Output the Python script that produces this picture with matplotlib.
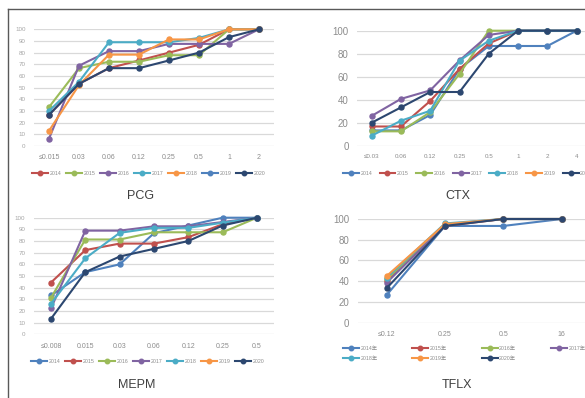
import matplotlib.pyplot as plt
import numpy as np

nan = np.nan

# renkler (Excel paleti)
mavi = "#4F81BD"
kirmizi = "#C0504D"
yesil = "#9BBB59"
mor = "#8064A2"
camgobegi = "#4BACC6"
turuncu = "#F79646"
lacivert = "#2C4770"

yillar = ["2014", "2015", "2016", "2017", "2018", "2019", "2020"]

# PCG
pcg_x = ["≤0.015", "0.03", "0.06", "0.12", "0.25", "0.5", "1", "2"]
pcg_2014 = [26.7, 53.3, 66.7, 73.3, 80.0, 86.7, 100, 100]
pcg_2015 = [33.3, 66.7, 72.2, 72.2, 77.8, 77.8, 100, 100]
pcg_2016 = [6.3, 68.8, 81.3, 81.3, 87.5, 87.5, 87.5, 100]
pcg_2017 = [30.0, 55.0, 88.9, 88.9, 88.9, 92.6, 100, 100]
pcg_2018 = [13.0, 52.2, 78.3, 78.3, 91.3, 91.3, 100, 100]
pcg_2019 = [nan] * 8
pcg_2020 = [26.7, 53.3, 66.7, 66.7, 73.3, 80.0, 93.3, 100]

# CTX
ctx_x = ["≤0.03", "0.06", "0.12", "0.25", "0.5", "1", "2", "4"]
ctx_2014 = [13.3, 13.3, 26.7, 66.7, 86.7, 86.7, 86.7, 100]
ctx_2015 = [16.7, 16.7, 38.9, 66.7, 88.9, 100, 100, 100]
ctx_2016 = [12.5, 12.5, 29.2, 62.5, 100, 100, 100, 100]
ctx_2017 = [25.9, 40.7, 48.1, 74.1, 96.3, 100, 100, 100]
ctx_2018 = [8.7, 21.7, 30.4, 73.9, 91.3, 100, 100, 100]
ctx_2019 = [nan] * 8
ctx_2020 = [20.0, 33.3, 46.7, 46.7, 80.0, 100, 100, 100]

# MEPM
mepm_x = ["≤0.008", "0.015", "0.03", "0.06", "0.12", "0.25", "0.5"]
mepm_2014 = [33.3, 53.3, 60.0, 86.7, 93.3, 100, 100]
mepm_2015 = [44.4, 72.2, 77.8, 77.8, 83.3, 94.4, 100]
mepm_2016 = [31.3, 81.3, 81.3, 87.5, 87.5, 87.5, 100]
mepm_2017 = [22.2, 88.9, 88.9, 92.6, 92.6, 96.3, 100]
mepm_2018 = [26.1, 65.2, 87.0, 91.3, 91.3, 95.7, 100]
mepm_2019 = [nan] * 7
mepm_2020 = [13.3, 53.3, 66.7, 73.3, 80.0, 93.3, 100]

# TFLX
tflx_x = ["≤0.12", "0.25", "0.5", "16"]
tflx_2014 = [26.7, 93.3, 93.3, 100]
tflx_2015 = [40.0, 93.3, 100, 100]
tflx_2016 = [41.7, 94.4, 100, 100]
tflx_2017 = [38.5, 94.2, 100, 100]
tflx_2018 = [43.5, 95.7, 100, 100]
tflx_2019 = [45.0, 95.0, 100, 100]
tflx_2020 = [33.3, 93.3, 100, 100]

W, H = 585, 398
fig = plt.figure(figsize=(W / 100, H / 100), dpi=100)
plt.rcParams["font.family"] = ["Liberation Sans", "Noto Sans CJK SC", "DejaVu Sans"]


def eksen(x0, x1, ytop, ybot):
    # piksel koordinatlarından eksen oluştur
    return fig.add_axes([x0 / W, (H - ybot) / H, (x1 - x0) / W, (ybot - ytop) / H])


def ciz(ax, kategoriler, seriler, renkler, adlar, yadim, ytik_boyut, ytik_renk, xtik_boyut):
    x = np.arange(len(kategoriler))
    cizgiler = []
    for s, r, ad in zip(seriler, renkler, adlar):
        l, = ax.plot(x, s, color=r, lw=1.5, marker="o", ms=3.6, label=ad, clip_on=False)
        cizgiler.append(l)
    ax.set_xlim(-0.5, len(kategoriler) - 0.5)
    ax.set_ylim(0, 100)
    ax.set_yticks(np.arange(0, 101, yadim))
    ax.yaxis.grid(True, color="#D9D9D9", lw=0.9)
    ax.set_axisbelow(True)
    for sp in ax.spines.values():
        sp.set_visible(False)
    ax.set_xticks(x)
    ax.set_xticklabels(kategoriler)
    ax.tick_params(axis="y", length=0, labelsize=ytik_boyut, labelcolor=ytik_renk, pad=6)
    ax.tick_params(axis="x", length=0, labelsize=xtik_boyut, labelcolor="#8C8C8C", pad=6)
    ax.patch.set_alpha(0)
    return cizgiler


renkler = [mavi, kirmizi, yesil, mor, camgobegi, turuncu, lacivert]

ax1 = eksen(34, 274, 29.3, 146)
h1 = ciz(ax1, pcg_x, [pcg_2014, pcg_2015, pcg_2016, pcg_2017, pcg_2018, pcg_2019, pcg_2020],
         [kirmizi, yesil, mor, camgobegi, turuncu, mavi, lacivert], yillar, 10, 4.5, "#A6A6A6", 5)

ax2 = eksen(357, 591.3, 30.7, 145.7)
h2 = ciz(ax2, ctx_x, [ctx_2014, ctx_2015, ctx_2016, ctx_2017, ctx_2018, ctx_2019, ctx_2020],
         renkler, yillar, 20, 7, "#8C8C8C", 4.5)

ax3 = eksen(33.8, 274.2, 217.7, 334.3)
h3 = ciz(ax3, mepm_x, [mepm_2014, mepm_2015, mepm_2016, mepm_2017, mepm_2018, mepm_2019, mepm_2020],
         renkler, yillar, 10, 4.5, "#A6A6A6", 5)

ax4 = eksen(357.5, 590.8, 219, 322.7)
h4 = ciz(ax4, tflx_x, [tflx_2014, tflx_2015, tflx_2016, tflx_2017, tflx_2018, tflx_2019, tflx_2020],
         renkler, [y + "年" for y in yillar], 20, 7, "#8C8C8C", 5)

# lejantlar
ortak = dict(frameon=False, fontsize=3.8, handlelength=3.0, handletextpad=0.3,
             numpoints=1, markerscale=0.9, labelcolor="#8C8C8C", borderpad=0, borderaxespad=0)
ax1.legend(handles=h1, ncol=7, loc="center", bbox_to_anchor=(149 / W, 1 - 173 / H),
           bbox_transform=fig.transFigure, columnspacing=0.9, **ortak)
ax2.legend(handles=h2, ncol=7, loc="center left", bbox_to_anchor=(343 / W, 1 - 173 / H),
           bbox_transform=fig.transFigure, columnspacing=1.4, **ortak)
ax3.legend(handles=h3, ncol=7, loc="center", bbox_to_anchor=(148 / W, 1 - 361.5 / H),
           bbox_transform=fig.transFigure, columnspacing=0.9, **ortak)
# satır satır dizilsin diye sıralama
sira = [0, 4, 1, 5, 2, 6, 3]
ax4.legend(handles=[h4[i] for i in sira], ncol=4, loc="upper left",
           bbox_to_anchor=(343 / W, 1 - 345.5 / H), bbox_transform=fig.transFigure,
           columnspacing=6.6, labelspacing=1.0, **ortak)

# başlıklar
for t, x, y in [("PCG", 140, 196), ("CTX", 458, 196), ("MEPM", 137, 385), ("TFLX", 457, 385)]:
    fig.text(x / W, 1 - y / H, t, ha="center", va="center", fontsize=9, color="#404040")

# çerçeve (üst ve sol)
fig.add_artist(plt.Line2D([8 / W, 1], [1 - 9 / H, 1 - 9 / H], color="#595959", lw=1))
fig.add_artist(plt.Line2D([8 / W, 8 / W], [0, 1 - 9 / H], color="#595959", lw=1))

fig.savefig("out.png", dpi=100)
